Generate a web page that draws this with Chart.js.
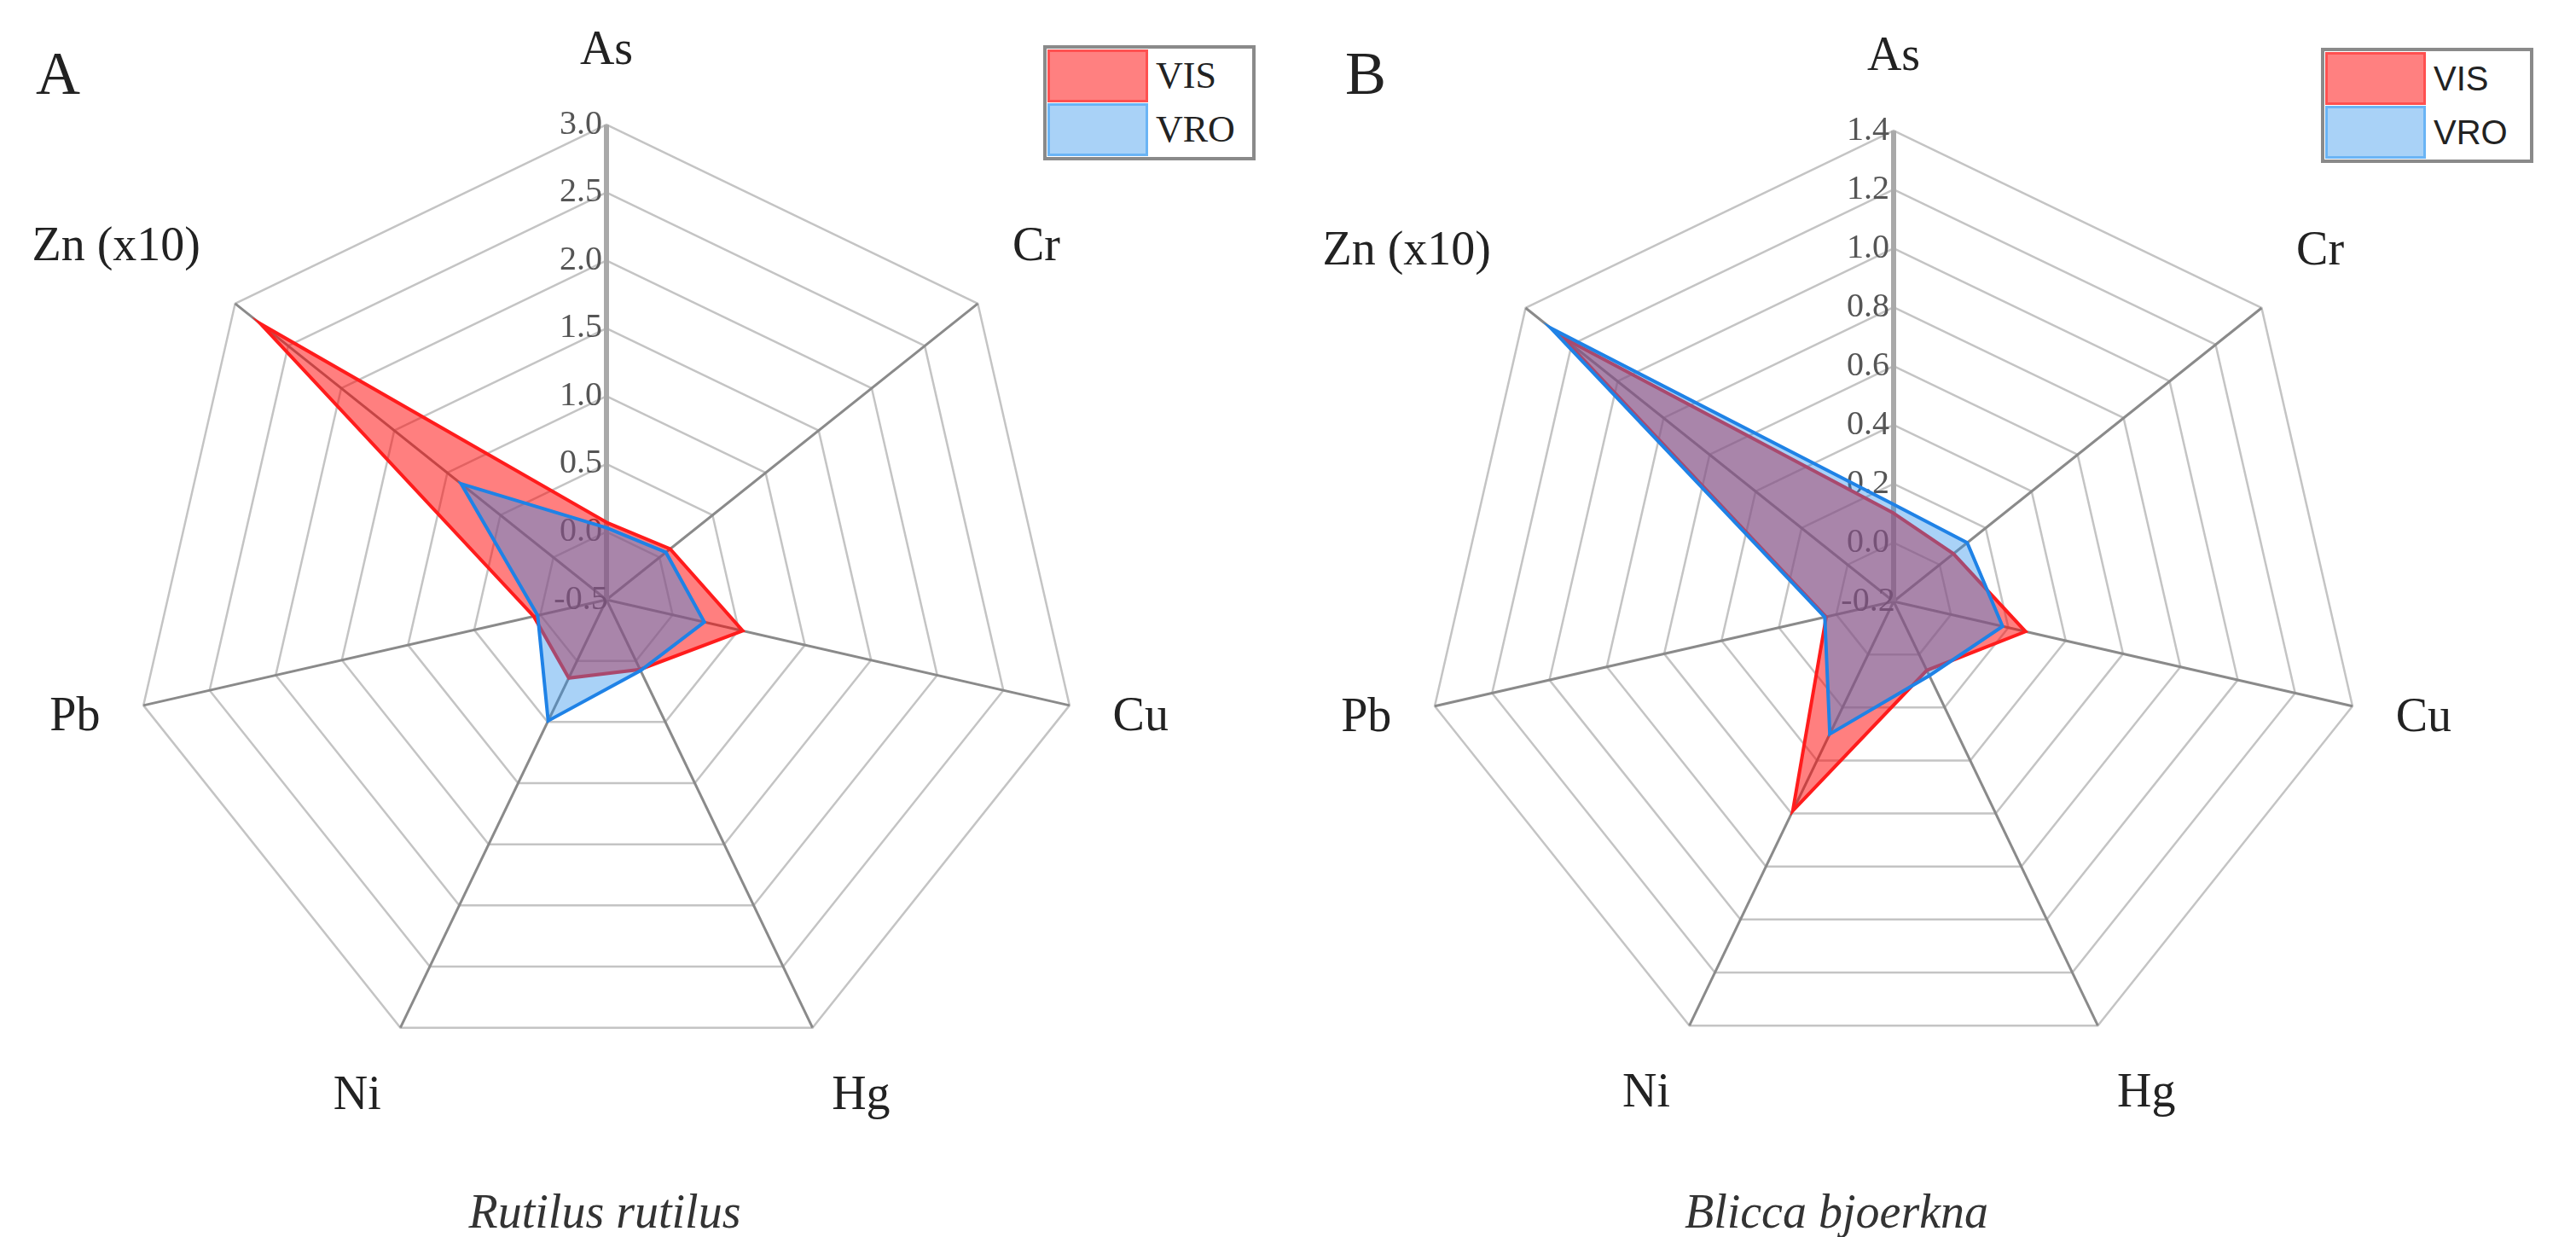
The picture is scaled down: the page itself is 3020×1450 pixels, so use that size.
<!DOCTYPE html>
<html><head><meta charset="utf-8">
<script src="https://cdn.jsdelivr.net/npm/chart.js@4.4.1/dist/chart.umd.min.js"></script>
<style>
html,body{margin:0;padding:0;background:#fff;width:3020px;height:1450px;overflow:hidden;position:relative;}
.wrap{position:absolute;}
.txt{position:absolute;font-family:'Liberation Serif',serif;color:#222;line-height:1;white-space:nowrap;}
.legend{position:absolute;width:249px;height:135px;border:4px solid #8a8a8a;box-sizing:border-box;background:#fff;}
.sw{position:absolute;left:1px;width:118px;height:62px;box-sizing:border-box;}
.lt{position:absolute;left:128px;height:62px;line-height:62px;color:#222;white-space:nowrap;}
.serif{font-family:'Liberation Serif',serif;font-size:44px;}
.sans{font-family:'Liberation Sans',sans-serif;font-size:40px;}
</style></head>
<body>
<div class="wrap" id="wa" style="left:-89px;top:-5px;width:1600px;height:1352px;"><canvas id="ca"></canvas></div>
<div class="wrap" id="wb" style="left:1420px;top:3px;width:1600px;height:1342px;"><canvas id="cb"></canvas></div>

<div class="txt" style="left:42px;top:50px;font-size:72px;">A</div>
<div class="txt" style="left:1577px;top:50px;font-size:72px;">B</div>
<div class="txt" style="left:309px;top:1392px;width:800px;text-align:center;font-size:56px;font-style:italic;color:#333;">Rutilus rutilus</div>
<div class="txt" style="left:1753px;top:1392px;width:800px;text-align:center;font-size:56px;font-style:italic;color:#333;">Blicca bjoerkna</div>

<div class="legend" style="left:1223px;top:53px;">
  <div class="sw" style="top:1px;background:#ff8080;border:3px solid #ff5050;"></div>
  <div class="sw" style="top:64px;background:#a9d2f7;border:3px solid #6ab4f5;"></div>
  <div class="lt serif" style="top:1px;">VIS</div>
  <div class="lt serif" style="top:64px;">VRO</div>
</div>
<div class="legend" style="left:2721px;top:56px;">
  <div class="sw" style="top:1px;background:#ff8080;border:3px solid #ff5050;"></div>
  <div class="sw" style="top:64px;background:#a9d2f7;border:3px solid #6ab4f5;"></div>
  <div class="lt sans" style="top:1px;">VIS</div>
  <div class="lt sans" style="top:64px;">VRO</div>
</div>

<script>
// ---- data ----
const categories = ['As', 'Cr', 'Cu', 'Hg', 'Ni', 'Pb', 'Zn (x10)'];
const seriesNames = ['VIS', 'VRO'];

// Panel A: Rutilus rutilus
const visA = [0.07, 0.10, 0.53, 0.07, 0.14, 0.05, 2.76];
const vroA = [0.03, 0.06, 0.24, 0.08, 0.49, 0.02, 0.87];
const tickValuesA = [-0.5, 0.0, 0.5, 1.0, 1.5, 2.0, 2.5, 3.0];

// Panel B: Blicca bjoerkna
const visB = [0.10, 0.06, 0.26, 0.06, 0.59, 0.035, 1.24];
const vroB = [0.13, 0.12, 0.18, 0.08, 0.30, 0.04, 1.29];
const tickValuesB = [-0.2, 0.0, 0.2, 0.4, 0.6, 0.8, 1.0, 1.2, 1.4];

const NBSP = '\u00A0';

function makeChart(id, vis, vro, tickVals) {
  return new Chart(document.getElementById(id), {
    type: 'radar',
    data: {
      labels: categories,
      datasets: [
        { label: seriesNames[0], data: vis, order: 2, fill: 'start',
          borderColor: '#ff1c1c', backgroundColor: 'rgba(255,0,0,0.5)',
          borderWidth: 4, pointRadius: 0, pointHoverRadius: 0 },
        { label: seriesNames[1], data: vro, order: 1, fill: 'start',
          borderColor: '#1f82e6', backgroundColor: 'rgba(40,142,235,0.4)',
          borderWidth: 4, pointRadius: 0, pointHoverRadius: 0 }
      ]
    },
    options: {
      responsive: true, maintainAspectRatio: false, animation: false,
      layout: { padding: 0 },
      plugins: { legend: { display: false }, tooltip: { enabled: false }, title: { display: false } },
      elements: { line: { tension: 0, borderJoinStyle: 'miter' } },
      scales: {
        r: {
          min: tickVals[0], max: tickVals[tickVals.length - 1],
          afterBuildTicks: ax => { ax.ticks = tickVals.map(v => ({ value: v })); },
          grid: { color: '#c4c4c4', lineWidth: 2.5 },
          angleLines: {
            color: c => c.index === 0 ? '#a9a9a9' : '#8a8a8a',
            lineWidth: c => c.index === 0 ? 6 : 3
          },
          ticks: {
            font: { family: 'Liberation Serif', size: 40 },
            color: '#555555', showLabelBackdrop: false, backdropPadding: 2,
            callback: v => Number(v).toFixed(1) + NBSP.repeat(6)
          },
          pointLabels: {
            padding: 30, color: '#222',
            font: c => ({ family: 'Liberation Serif', size: 56,
                          lineHeight: (c.index === 2 || c.index === 5) ? 0.1 : 1.2 })
          }
        }
      }
    }
  });
}

makeChart('ca', visA, vroA, tickValuesA);
makeChart('cb', visB, vroB, tickValuesB);
</script>
</body></html>
